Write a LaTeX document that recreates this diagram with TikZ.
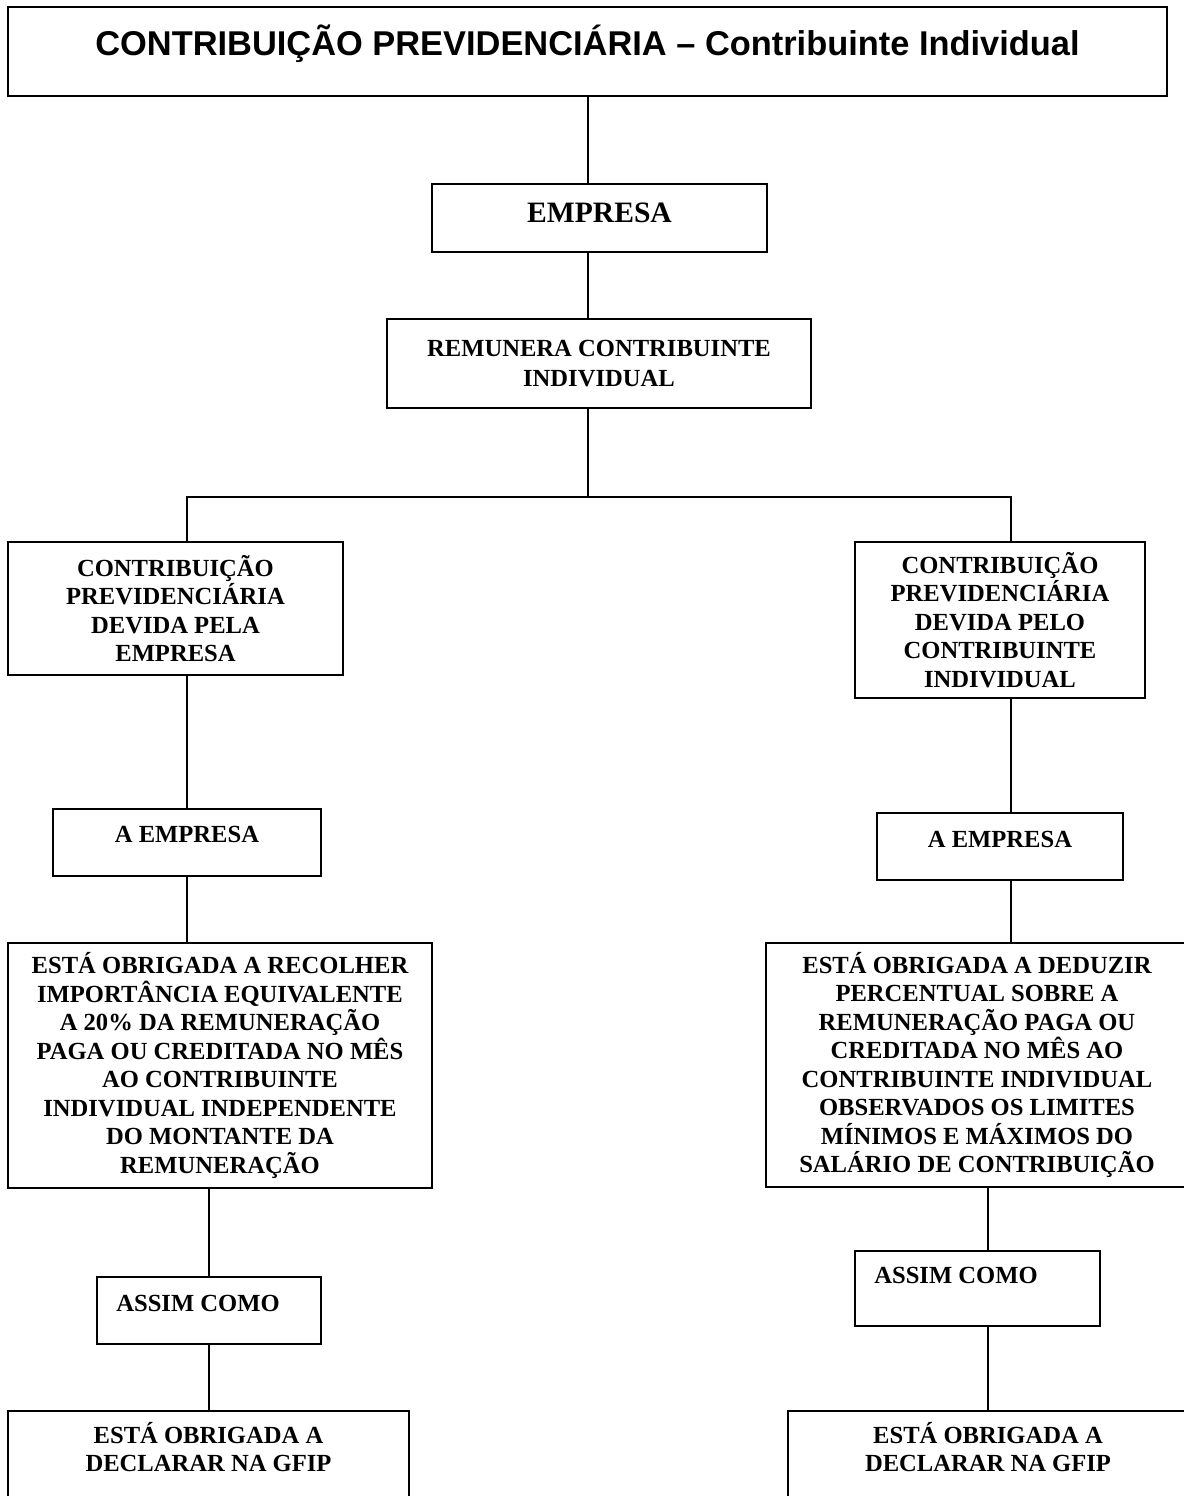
\documentclass[tikz,border=0pt]{standalone}
\usepackage{fontspec}
\setmainfont{Liberation Serif}
\newfontfamily\titulofont{Liberation Sans}
\begin{document}
\begin{tikzpicture}[x=0.5pt, y=-0.5pt,
        caixa/.style={draw=black, line width=1pt, inner sep=0pt, align=center,
            font=\bfseries\fontsize{12.3}{14.25}\selectfont},
        liga/.style={draw=black, line width=1pt}]
    \useasboundingbox (0,0) rectangle (1184,1496);
    \node[caixa, minimum width=579.5pt, minimum height=44.5pt, text height=24pt, text depth=20.5pt,
        font=\titulofont\bfseries\fontsize{17.2}{20}\selectfont] (titulo) at (587.5,51.5)
        {CONTRIBUIÇÃO PREVIDENCIÁRIA – Contribuinte Individual};
    \node[caixa, minimum width=167.5pt, minimum height=34pt, text height=19pt, text depth=15pt,
        font=\bfseries\fontsize{14.8}{17}\selectfont] (empresa) at (599.5,218) {EMPRESA};
    \node[caixa, minimum width=212pt, minimum height=44.5pt] (remunera) at (599,363.5)
        {REMUNERA CONTRIBUINTE\\[1.1pt]INDIVIDUAL};
    \node[caixa, minimum width=167.5pt, minimum height=66.5pt] (contribemp) at (175.5,608.5)
        {CONTRIBUIÇÃO\\PREVIDENCIÁRIA\\DEVIDA PELA\\EMPRESA};
    \node[caixa, minimum width=145pt, minimum height=78pt] (contribind) at (1000,620)
        {CONTRIBUIÇÃO\\PREVIDENCIÁRIA\\DEVIDA PELO\\CONTRIBUINTE\\INDIVIDUAL};
    \node[caixa, minimum width=134pt, minimum height=33.5pt, text height=16.5pt, text depth=17pt]
        (empresaesq) at (187,842.5) {A EMPRESA};
    \node[caixa, minimum width=123pt, minimum height=33.5pt, text height=17pt, text depth=16.5pt]
        (empresadir) at (1000,846.5) {A EMPRESA};
    \node[caixa, minimum width=212pt, minimum height=122.5pt] (recolher) at (220,1065.5)
        {ESTÁ OBRIGADA A RECOLHER\\IMPORTÂNCIA EQUIVALENTE\\A 20\% DA REMUNERAÇÃO\\PAGA OU CREDITADA NO MÊS\\AO CONTRIBUINTE\\INDIVIDUAL INDEPENDENTE\\DO MONTANTE DA\\REMUNERAÇÃO};
    \node[caixa, minimum width=211pt, minimum height=122pt] (deduzir) at (977,1065)
        {ESTÁ OBRIGADA A DEDUZIR\\PERCENTUAL SOBRE A\\REMUNERAÇÃO PAGA OU\\CREDITADA NO MÊS AO\\CONTRIBUINTE INDIVIDUAL\\OBSERVADOS OS LIMITES\\MÍNIMOS E MÁXIMOS DO\\SALÁRIO DE CONTRIBUIÇÃO};
    \node[caixa, minimum width=112pt, minimum height=33.5pt, text height=17pt, text depth=16.5pt]
        (assimesq) at (209,1310.5) {ASSIM COMO\hspace*{11pt}};
    \node[caixa, minimum width=122.5pt, minimum height=37.5pt, text height=16pt, text depth=21.5pt]
        (assimdir) at (977.5,1288.5) {ASSIM COMO\hspace*{21.5pt}};
    \node[caixa, minimum width=200.5pt, minimum height=80pt, text height=16pt, text depth=64pt]
        (gfipesq) at (208.5,1491) {\begin{tabular}[t]{@{}c@{}}ESTÁ OBRIGADA A\\DECLARAR NA GFIP\end{tabular}};
    \node[caixa, minimum width=200pt, minimum height=80pt, text height=16pt, text depth=64pt]
        (gfipdir) at (988,1491) {\begin{tabular}[t]{@{}c@{}}ESTÁ OBRIGADA A\\DECLARAR NA GFIP\end{tabular}};
    \coordinate (tronco) at (588,497);
    \coordinate (ramoesq) at (187,497);
    \coordinate (ramodir) at (1011,497);
    \draw[liga] (titulo.south -| tronco) -- (empresa.north -| tronco);
    \draw[liga] (empresa.south -| tronco) -- (remunera.north -| tronco);
    \draw[liga] (remunera.south -| tronco) -- (tronco);
    \draw[liga] (ramoesq |- contribemp.north) -- (ramoesq) -- (ramodir) -- (ramodir |- contribind.north);
    \draw[liga] (contribemp.south -| ramoesq) -- (empresaesq.north -| ramoesq);
    \draw[liga] (empresaesq.south -| ramoesq) -- (recolher.north -| ramoesq);
    \draw[liga] (recolher.south -| assimesq) -- (assimesq.north);
    \draw[liga] (assimesq.south) -- (gfipesq.north -| assimesq);
    \draw[liga] (contribind.south -| ramodir) -- (empresadir.north -| ramodir);
    \draw[liga] (empresadir.south -| ramodir) -- (deduzir.north -| ramodir);
    \draw[liga] (deduzir.south -| gfipdir) -- (assimdir.north -| gfipdir);
    \draw[liga] (assimdir.south -| gfipdir) -- (gfipdir.north);
\end{tikzpicture}
\end{document}
